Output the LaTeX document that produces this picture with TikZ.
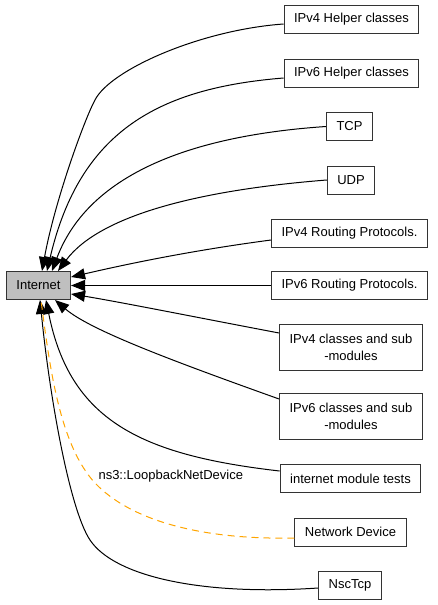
\documentclass[tikz,border=0pt]{standalone}
\usepackage{fontspec}
\setmainfont{Liberation Sans}
\usepackage{tikz}
\usetikzlibrary{arrows.meta}

\tikzset{
  grp/.style={draw=black!80, line width=1pt, minimum height=28pt, inner xsep=10pt, font=\fontsize{13}{17}\selectfont},
  grpcur/.style={grp, fill=black!25},
  grptwo/.style={grp, minimum height=46pt, align=center},
  dep/.style={line width=1pt, -{Triangle[length=14pt,width=11pt]}},
  coll/.style={line width=1pt, draw={rgb,255:red,255;green,165;blue,0}, dash pattern=on 7pt off 5pt}
}

\begin{document}
\begin{tikzpicture}[x=1pt,y=-1pt]
  \useasboundingbox (0,0) rectangle (437,605);
  \node[grpcur] (inet) at (38.5, 285.5) {Internet};
  \node[grp] (v4help) at (351.5, 19) {IPv4 Helper classes};
  \node[grp] (v6help) at (351.5, 73) {IPv6 Helper classes};
  \node[grp] (tcp) at (349.5, 126.5) {TCP};
  \node[grp] (udp) at (351, 180) {UDP};
  \node[grp] (v4rout) at (349.5, 233.5) {IPv4 Routing Protocols.};
  \node[grp] (v6rout) at (349.5, 285.5) {IPv6 Routing Protocols.};
  \node[grptwo] (v4cls) at (351, 347.5) {IPv4 classes and sub\\-modules};
  \node[grptwo] (v6cls) at (351, 416) {IPv6 classes and sub\\-modules};
  \node[grp] (tests) at (350.5, 478.5) {internet module tests};
  \node[grp] (netdev) at (350.5, 532) {Network Device};
  \node[grp] (nsc) at (350, 585) {NscTcp};

  \draw[dep] ([yshift=-5pt]v4help.west) .. controls (200,30) and (110,70) .. (95,100)
    .. controls (85,118) and (55,200) .. ([xshift=3.5pt]inet.north);
  \draw[dep] ([yshift=-5pt]v6help.west) .. controls (160,88) and (80,130) .. ([xshift=8.5pt]inet.north);
  \draw[dep] (tcp.west) .. controls (200,135) and (90,170) .. ([xshift=13.5pt]inet.north);
  \draw[dep] (udp.west) .. controls (200,190) and (100,215) .. ([xshift=19.5pt]inet.north);
  \draw[dep] ([yshift=-6.5pt]v4rout.west) .. controls (180,252) and (110,268) .. ([yshift=8.5pt]inet.east);
  \draw[dep] (v6rout.west) -- (inet.east);
  \draw[dep] ([yshift=14.5pt]v4cls.west) .. controls (200,318) and (120,302) .. ([yshift=-8.5pt]inet.east);
  \draw[dep] ([yshift=17pt]v6cls.west) .. controls (170,360) and (90,330) .. ([xshift=16.5pt]inet.south);
  \draw[dep] ([yshift=7.5pt]tests.west) .. controls (140,455) and (70,420) .. ([xshift=7.5pt]inet.south);
  \draw[dep] ([yshift=-3pt]nsc.west) .. controls (200,596) and (114,576) .. (90,540)
    .. controls (70,510) and (50,400) .. ([xshift=1.5pt]inet.south);
  \draw[coll] ([yshift=-6pt]netdev.west) .. controls (200,540) and (130,520) .. (95,483)
    .. controls (60,445) and (50,370) .. ([xshift=2.5pt]inet.south);
  \node[anchor=west, font=\fontsize{13}{17}\selectfont] (lbl) at (95, 476) {ns3::LoopbackNetDevice};
\end{tikzpicture}
\end{document}
